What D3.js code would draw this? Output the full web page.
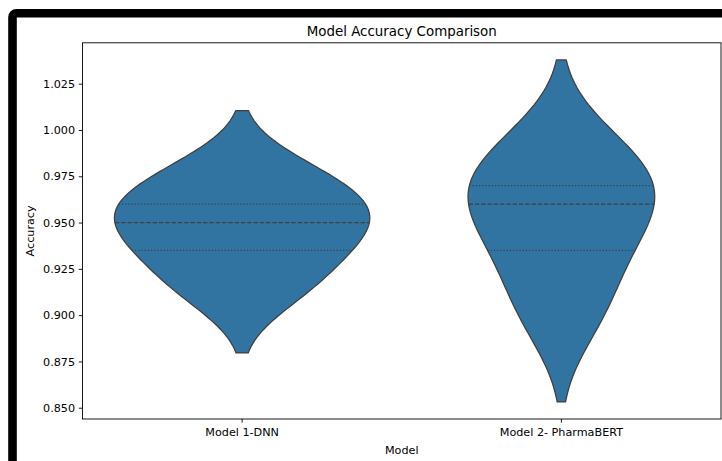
<!DOCTYPE html>
<html>
<head>
<meta charset="utf-8">
<script src="https://cdn.jsdelivr.net/npm/d3@7"></script>
<style>
  html, body { margin: 0; padding: 0; background: #fff; }
  svg { display: block; font-family: "DejaVu Sans", sans-serif; }
</style>
</head>
<body>
<svg id="chart" width="722" height="461"></svg>
<script>
// Per-fold accuracy of each model
const models = ["Model 1-DNN", "Model 2- PharmaBERT"];
const dnnScores = [0.914, 0.935, 0.95, 0.96, 0.976];
const bertScores = [0.902, 0.935, 0.96, 0.97, 0.989];
const yTicks = [0.850, 0.875, 0.900, 0.925, 0.950, 0.975, 1.000, 1.025];

const W = 722, H = 461;
const plot = { left: 82.5, right: 721, top: 42.8, bottom: 419 };
const fill = "#3274a1", edge = "#3f3f3f";
const tickFont = 11.2, titleFont = 13.4;

const svg = d3.select("#chart");
svg.append("rect").attr("width", W).attr("height", H).attr("fill", "#fff");

// Gaussian KDE (Scott bandwidth), support cut at 2 bandwidths beyond the data
function kde(values) {
  const n = values.length;
  const bw = d3.deviation(values) * Math.pow(n, -1 / 5);
  const lo = d3.min(values) - 2 * bw, hi = d3.max(values) + 2 * bw;
  const at = v => d3.mean(values, x => Math.exp(-0.5 * ((v - x) / bw) ** 2)) / (bw * Math.sqrt(2 * Math.PI));
  const pts = d3.range(100).map(i => {
    const v = lo + (hi - lo) * i / 99;
    return { v, d: at(v) };
  });
  return { pts, lo, hi, at };
}

const series = [dnnScores, bertScores].map((vals, i) => ({
  name: models[i],
  vals,
  k: kde(vals),
  q: [0.25, 0.5, 0.75].map(p => d3.quantile(vals, p))
}));

const lo = d3.min(series, s => s.k.lo), hi = d3.max(series, s => s.k.hi);
const pad = (hi - lo) * 0.05;

const x = d3.scaleBand().domain(models).range([plot.left, plot.right]);
const y = d3.scaleLinear().domain([lo - pad, hi + pad]).range([plot.bottom, plot.top]);

const maxD = d3.max(series, s => d3.max(s.k.pts, p => p.d));
const halfW = d => d / maxD * x.bandwidth() * 0.8 / 2;

// Violins
series.forEach(s => {
  const cx = x(s.name) + x.bandwidth() / 2;
  const area = d3.area()
    .y(p => y(p.v))
    .x0(p => cx - halfW(p.d))
    .x1(p => cx + halfW(p.d));
  svg.append("path")
    .attr("d", area(s.k.pts))
    .attr("fill", fill)
    .attr("stroke", edge)
    .attr("stroke-width", 1.25)
    .attr("stroke-linejoin", "round");

  // quartile lines: dotted quartiles, dashed median
  s.q.forEach((qv, j) => {
    const w = halfW(s.k.at(qv));
    svg.append("line")
      .attr("x1", cx - w).attr("x2", cx + w)
      .attr("y1", y(qv)).attr("y2", y(qv))
      .attr("stroke", edge)
      .attr("stroke-width", 1.2)
      .attr("stroke-dasharray", j === 1 ? "4.4,1.9" : "1.2,2");
  });
});

// Axes frame
svg.append("rect")
  .attr("x", plot.left).attr("y", plot.top)
  .attr("width", plot.right - plot.left).attr("height", plot.bottom - plot.top)
  .attr("fill", "none").attr("stroke", "#000").attr("stroke-width", 0.9);

const yAxis = svg.append("g")
  .attr("transform", `translate(${plot.left},0)`)
  .call(d3.axisLeft(y).tickValues(yTicks).tickFormat(d3.format(".3f")).tickSize(3.7).tickPadding(3.7));
const xAxis = svg.append("g")
  .attr("transform", `translate(0,${plot.bottom})`)
  .call(d3.axisBottom(x).tickSize(3.7).tickPadding(3.7));

[yAxis, xAxis].forEach(g => {
  g.select(".domain").remove();
  g.selectAll(".tick line").attr("stroke", "#000").attr("stroke-width", 0.9);
  g.selectAll(".tick text").attr("fill", "#000").style("font-size", tickFont + "px")
    .style("font-family", "'DejaVu Sans', sans-serif");
});
xAxis.selectAll(".tick text").attr("y", 0).attr("dy", 0).attr("transform", "translate(0,17.4)");

// Titles
svg.append("text")
  .attr("x", (plot.left + plot.right) / 2).attr("y", 36.3)
  .attr("text-anchor", "middle").style("font-size", titleFont + "px").attr("fill", "#000")
  .text("Model Accuracy Comparison");
svg.append("text")
  .attr("x", (plot.left + plot.right) / 2).attr("y", 453.5)
  .attr("text-anchor", "middle").style("font-size", tickFont + "px").attr("fill", "#000")
  .text("Model");
svg.append("text")
  .attr("transform", `translate(34,${(plot.top + plot.bottom) / 2}) rotate(-90)`)
  .attr("text-anchor", "middle").style("font-size", tickFont + "px").attr("fill", "#000")
  .text("Accuracy");

// Outer black frame
svg.append("rect")
  .attr("x", 12.5).attr("y", 13.2).attr("width", 900).attr("height", 700)
  .attr("rx", 4).attr("fill", "none").attr("stroke", "#000").attr("stroke-width", 8.6);
</script>
</body>
</html>
